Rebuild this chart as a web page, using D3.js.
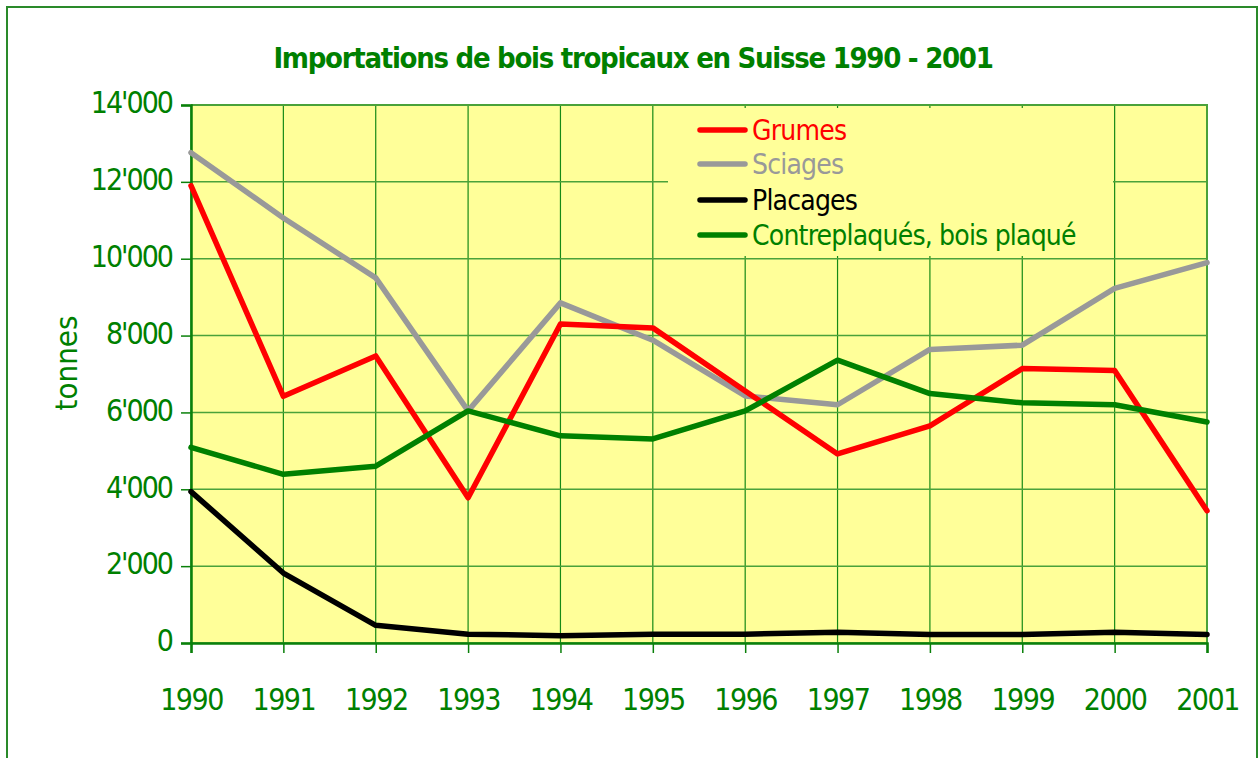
<!DOCTYPE html>
<html>
<head>
<meta charset="utf-8">
<script src="https://cdn.jsdelivr.net/npm/d3@7"></script>
<style>
  body { margin: 0; background: #ffffff; }
  svg text { font-family: "DejaVu Sans Condensed", "DejaVu Sans", sans-serif; fill: #008000; }
</style>
</head>
<body>
<div id="chart"></div>
<script>
// data (tonnes)
var years = [1990, 1991, 1992, 1993, 1994, 1995, 1996, 1997, 1998, 1999, 2000, 2001];
var grumes = [11900, 6420, 7470, 3780, 8300, 8200, 6560, 4920, 5650, 7140, 7090, 3440];
var sciages = [12760, 11060, 9500, 6040, 8850, 7880, 6430, 6200, 7640, 7750, 9230, 9900];
var placages = [3940, 1820, 460, 230, 190, 230, 230, 280, 220, 220, 280, 220];
var contreplaques = [5090, 4390, 4600, 6040, 5390, 5310, 6040, 7360, 6490, 6250, 6200, 5750];
var seriesNames = ["Grumes", "Sciages", "Placages", "Contreplaqués, bois plaqué"];
var seriesColors = ["#ff0000", "#999999", "#000000", "#008000"];
var yTicks = [0, 2000, 4000, 6000, 8000, 10000, 12000, 14000];

var svgWidth = 1258;
var svgHeight = 758;
var margin = { top: 105, right: 51, bottom: 115, left: 191 };
var width = svgWidth - margin.left - margin.right;
var height = svgHeight - margin.top - margin.bottom;

var svg = d3.select("#chart")
  .append("svg")
  .attr("width", svgWidth)
  .attr("height", svgHeight);

// outer frame
svg.append("rect")
  .attr("x", 7).attr("y", 7)
  .attr("width", 1250).attr("height", 800)
  .attr("fill", "none")
  .attr("stroke", "#2a8a2a")
  .attr("stroke-width", 2);

// title
svg.append("text")
  .attr("x", 633)
  .attr("y", 68)
  .attr("text-anchor", "middle")
  .style("font-size", "29px")
  .style("font-weight", "bold")
  .style("letter-spacing", "-1.3px")
  .text("Importations de bois tropicaux en Suisse 1990 - 2001");

var chartGroup = svg.append("g")
  .attr("transform", `translate(${margin.left}, ${margin.top})`);

var xScale = d3.scalePoint().domain(years).range([0, width]);
var yScale = d3.scaleLinear().domain([0, 14000]).range([height, 0]);

var swiss = d3.formatLocale({ decimal: ".", thousands: "'", grouping: [3], currency: ["", ""] });
var fmt = swiss.format(",");

// plot background
chartGroup.append("rect")
  .attr("width", width)
  .attr("height", height)
  .attr("fill", "#ffff99");

// grid
chartGroup.append("g")
  .selectAll("line")
  .data(years)
  .enter()
  .append("line")
  .attr("x1", d => xScale(d)).attr("x2", d => xScale(d))
  .attr("y1", 0).attr("y2", height)
  .attr("stroke", "#168a16")
  .attr("stroke-width", 1.2);

chartGroup.append("g")
  .selectAll("line")
  .data(yTicks)
  .enter()
  .append("line")
  .attr("x1", 0).attr("x2", width)
  .attr("y1", d => yScale(d)).attr("y2", d => yScale(d))
  .attr("stroke", "#4aa23a")
  .attr("stroke-width", 1.5);

// top and right border of plot
chartGroup.append("path")
  .attr("d", `M0,0H${width}V${height}`)
  .attr("fill", "none")
  .attr("stroke", "#4aa23a")
  .attr("stroke-width", 2);

// legend box hides the grid behind it
var legend = chartGroup.append("g");
legend.append("rect")
  .attr("x", 668 - margin.left)
  .attr("y", 108 - margin.top)
  .attr("width", 445)
  .attr("height", 148)
  .attr("fill", "#ffff99");

// axes
var yAxis = d3.axisLeft(yScale).tickValues(yTicks).tickFormat(fmt).tickSize(10).tickPadding(9);
var xAxis = d3.axisBottom(xScale).tickSize(10);

var yAxisG = chartGroup.append("g").call(yAxis);
var xAxisG = chartGroup.append("g")
  .attr("transform", `translate(0, ${height})`)
  .call(xAxis);

[yAxisG, xAxisG].forEach(function(g) {
  g.select(".domain").attr("stroke", "#0a800a").attr("stroke-width", 2.5);
  g.selectAll(".tick line").attr("stroke", "#0a800a").attr("stroke-width", 1.5);
  g.selectAll(".tick text").attr("fill", "#008000")
    .style("font-family", "'DejaVu Sans Condensed', 'DejaVu Sans', sans-serif");
});
yAxisG.selectAll(".tick text").attr("dy", "0.26em")
  .style("font-size", "30px").style("letter-spacing", "-2px");
xAxisG.selectAll(".tick text").attr("y", 67).attr("dy", 0)
  .style("font-size", "30px").style("letter-spacing", "-1.5px");

// y label
chartGroup.append("text")
  .attr("transform", "rotate(-90)")
  .attr("x", -(363 - margin.top))
  .attr("y", 77 - margin.left)
  .attr("text-anchor", "middle")
  .style("font-size", "31px")
  .text("tonnes");

// lines
var allSeries = [grumes, sciages, placages, contreplaques];
var line = d3.line()
  .x((d, i) => xScale(years[i]))
  .y(d => yScale(d));

// gray first, then red, black, green on top
var order = [1, 0, 2, 3];
order.forEach(function(k) {
  chartGroup.append("path")
    .datum(allSeries[k])
    .attr("d", line)
    .attr("fill", "none")
    .attr("stroke", seriesColors[k])
    .attr("stroke-width", 5.5)
    .attr("stroke-linejoin", "round")
    .attr("stroke-linecap", "round");
});

// legend entries
var legendY = [130, 164, 200, 235];
seriesNames.forEach(function(name, i) {
  var y = legendY[i] - margin.top;
  legend.append("line")
    .attr("x1", 700 - margin.left).attr("x2", 745 - margin.left)
    .attr("y1", y).attr("y2", y)
    .attr("stroke", seriesColors[i])
    .attr("stroke-width", 5.5)
    .attr("stroke-linecap", "round");
  legend.append("text")
    .attr("x", 752 - margin.left)
    .attr("y", y)
    .attr("dy", "0.35em")
    .style("font-size", "28px")
    .style("letter-spacing", "-0.8px")
    .style("fill", seriesColors[i])
    .text(name);
});
</script>
</body>
</html>
